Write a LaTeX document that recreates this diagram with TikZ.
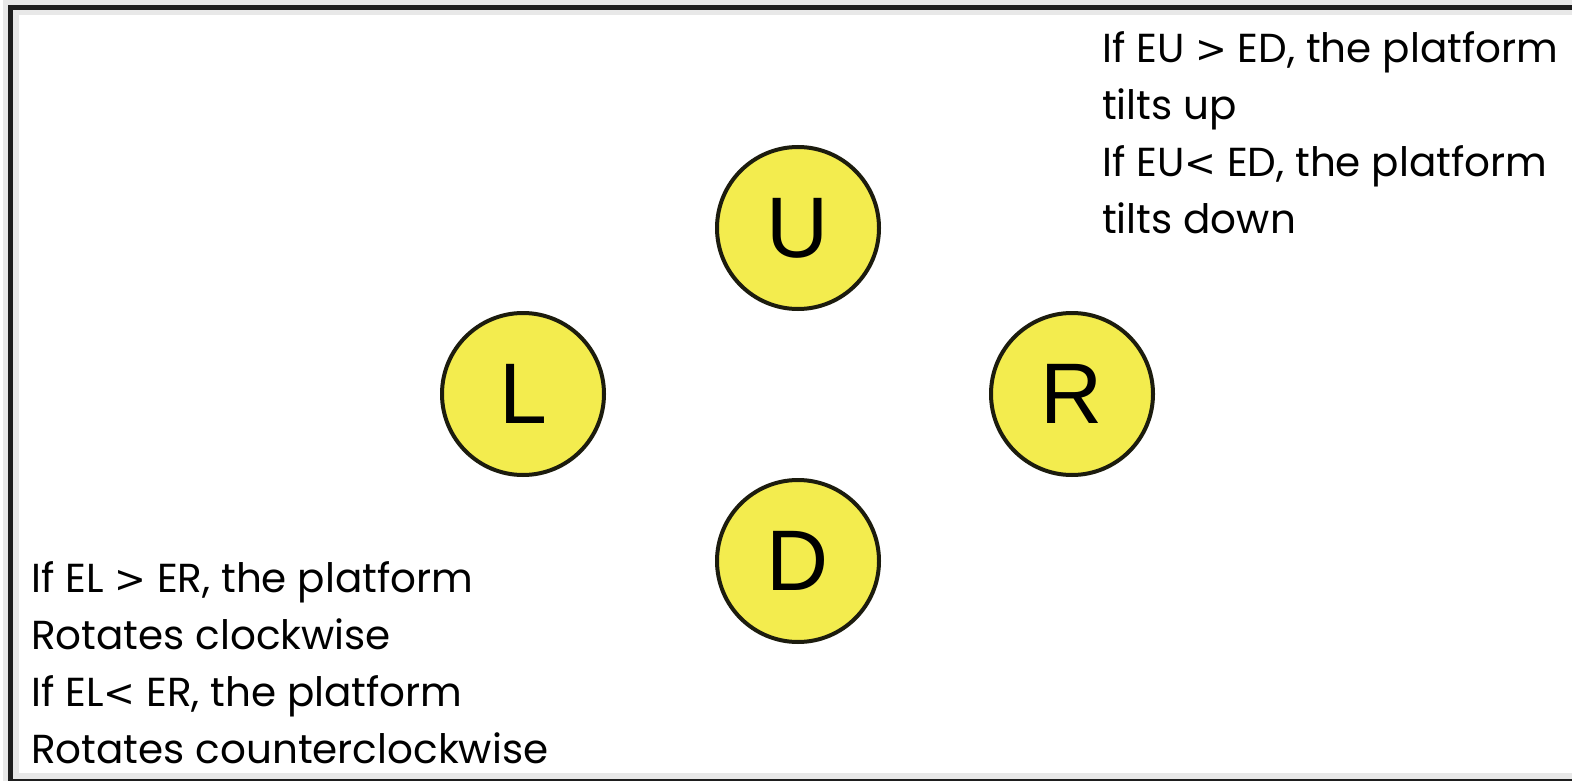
\documentclass[tikz,border=0pt]{standalone}
\usepackage{fontspec}
\setmainfont{Poppins}
\newfontfamily\letterfont{Liberation Sans}
\newfontfamily\relfont{DejaVu Sans}
\newcommand{\gtsign}{{\relfont\fontsize{38}{57}\selectfont >}}
\newcommand{\ltsign}{{\relfont\fontsize{38}{57}\selectfont <}}
\begin{document}
\begin{tikzpicture}[x=1pt,y=-1pt,
  sensor/.style={circle,draw=sensorline,fill=sensorfill,line width=4pt,
    minimum size=162pt,inner sep=0pt,font=\letterfont\fontsize{86}{86}\selectfont},
  rule/.style={anchor=north west,align=left,inner sep=0pt,
    font=\fontsize{40.5}{57}\selectfont}]
\definecolor{sensorfill}{HTML}{F3EC4E}
\definecolor{sensorline}{HTML}{1C1C0E}
\definecolor{frameline}{HTML}{1E1E1E}
\definecolor{framehalo}{HTML}{E8E8E8}
\useasboundingbox (0,0) rectangle (1572,781);
% frame
\fill[white] (0,0) rectangle (1572,781);
\fill[framehalo] (3,0) rectangle (1572,781);
\fill[frameline] (8,5) rectangle (1572,781);
\fill[framehalo] (13,10) rectangle (1572,779);
\fill[white] (19,15) rectangle (1572,773);
% sensors
\node[sensor] (U) at (798,228) {U};
\node[sensor] (L) at (523,394) {L};
\node[sensor] (R) at (1072,394) {R};
\node[sensor] (D) at (798,561) {D};
% rules
\node[rule] (tilt) at (1102,31) {If EU \gtsign{} ED, the platform\\tilts up\\If EU\ltsign{} ED, the platform\\tilts down};
\node[rule] (rot) at (31,561) {If EL \gtsign{} ER, the platform\\Rotates clockwise\\If EL\ltsign{} ER, the platform\\Rotates counterclockwise};
\end{tikzpicture}
\end{document}
